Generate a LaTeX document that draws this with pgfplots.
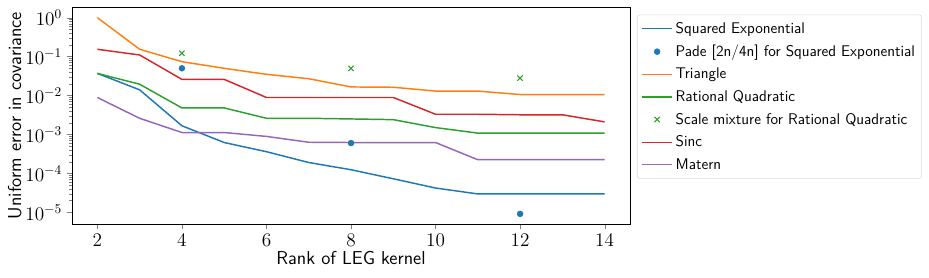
\documentclass[border=0pt]{standalone}
\usepackage{pgfplots}
\pgfplotsset{compat=1.18}
\definecolor{C0}{HTML}{1F77B4}
\definecolor{C1}{HTML}{FF7F0E}
\definecolor{C2}{HTML}{2CA02C}
\definecolor{C3}{HTML}{D62728}
\definecolor{C4}{HTML}{9467BD}
\begin{document}
\begin{tikzpicture}
\begin{axis}[
  name=ax,
  scale only axis,
  width=418.5pt, height=162.75pt,
  ymode=log,
  xmin=1.4, xmax=14.6,
  ymin=5.0e-6, ymax=1.88,
  xtick={2,4,6,8,10,12,14},
  ytick={1e-5,1e-4,1e-3,1e-2,1e-1,1},
  tick align=outside,
  xtick pos=bottom, ytick pos=left,
  major tick length=4pt, minor tick length=2.2pt,
  tick label style={font=\fontsize{14}{16}\selectfont},
  label style={font=\sffamily\fontsize{14}{16}\selectfont},
  xlabel={Rank of LEG kernel},
  ylabel={Uniform error in covariance},
  xlabel style={yshift=3pt},
  ylabel style={yshift=-4pt},
  clip=false,
  legend style={at={(1.0125,0.965)}, anchor=north west,
    font=\sffamily\fontsize{11.6}{13.5}\selectfont,
    draw=black!15, rounded corners=2pt, row sep=3.2pt,
    inner xsep=3pt, inner ysep=3.5pt},
  legend cell align=left,
  legend image code/.code={\draw[mark repeat=2,mark phase=2] plot coordinates {(0cm,0cm) (0.4cm,0cm) (0.8cm,0cm)};},
]
\addplot[C0, mark=none, line width=1.1pt] coordinates {(2,0.037) (3,0.014) (4,0.00167) (5,0.00062) (6,0.00036) (7,0.00019) (8,0.000124) (9,0.0000726) (10,0.000042) (11,0.0000296) (12,0.0000296) (13,0.0000296) (14,0.0000296)};
\addlegendentry{Squared Exponential}
\addplot[C0, only marks, mark=*, mark size=2.2pt] coordinates {(4,0.050) (8,0.0006) (12,0.0000091)};
\addlegendentry{Pade [2n/4n] for Squared Exponential}
\addplot[C1, mark=none, line width=1.1pt] coordinates {(2,1.0) (3,0.154) (4,0.074) (5,0.05) (6,0.035) (7,0.027) (8,0.0166) (9,0.0163) (10,0.013) (11,0.013) (12,0.0106) (13,0.0106) (14,0.0106)};
\addlegendentry{Triangle}
\addplot[C2, mark=none, line width=1.1pt] coordinates {(2,0.037) (3,0.0195) (4,0.0048) (5,0.0048) (6,0.0026) (7,0.0026) (8,0.0025) (9,0.0024) (10,0.0015) (11,0.00108) (12,0.00108) (13,0.00108) (14,0.00108)};
\addlegendentry{Rational Quadratic}
\addplot[C2, only marks, mark=x, mark size=2.8pt, line width=0.8pt] coordinates {(4,0.122) (8,0.050) (12,0.028)};
\addlegendentry{Scale mixture for Rational Quadratic}
\addplot[C3, mark=none, line width=1.1pt] coordinates {(2,0.154) (3,0.11) (4,0.026) (5,0.026) (6,0.0089) (7,0.0089) (8,0.0089) (9,0.0089) (10,0.0033) (11,0.0033) (12,0.0032) (13,0.0032) (14,0.0021)};
\addlegendentry{Sinc}
\addplot[C4, mark=none, line width=1.1pt] coordinates {(2,0.0089) (3,0.0026) (4,0.00112) (5,0.00112) (6,0.00089) (7,0.00063) (8,0.00062) (9,0.00062) (10,0.00062) (11,0.000224) (12,0.000224) (13,0.000224) (14,0.000224)};
\addlegendentry{Matern}
\end{axis}
\pgfresetboundingbox
\path (ax.south west) ++(-54pt,-40.5pt) coordinate (bl);
\path (ax.north east) ++(224.25pt,5.25pt) coordinate (tr);
\path[use as bounding box] (bl) rectangle (tr);
\end{tikzpicture}
\end{document}
